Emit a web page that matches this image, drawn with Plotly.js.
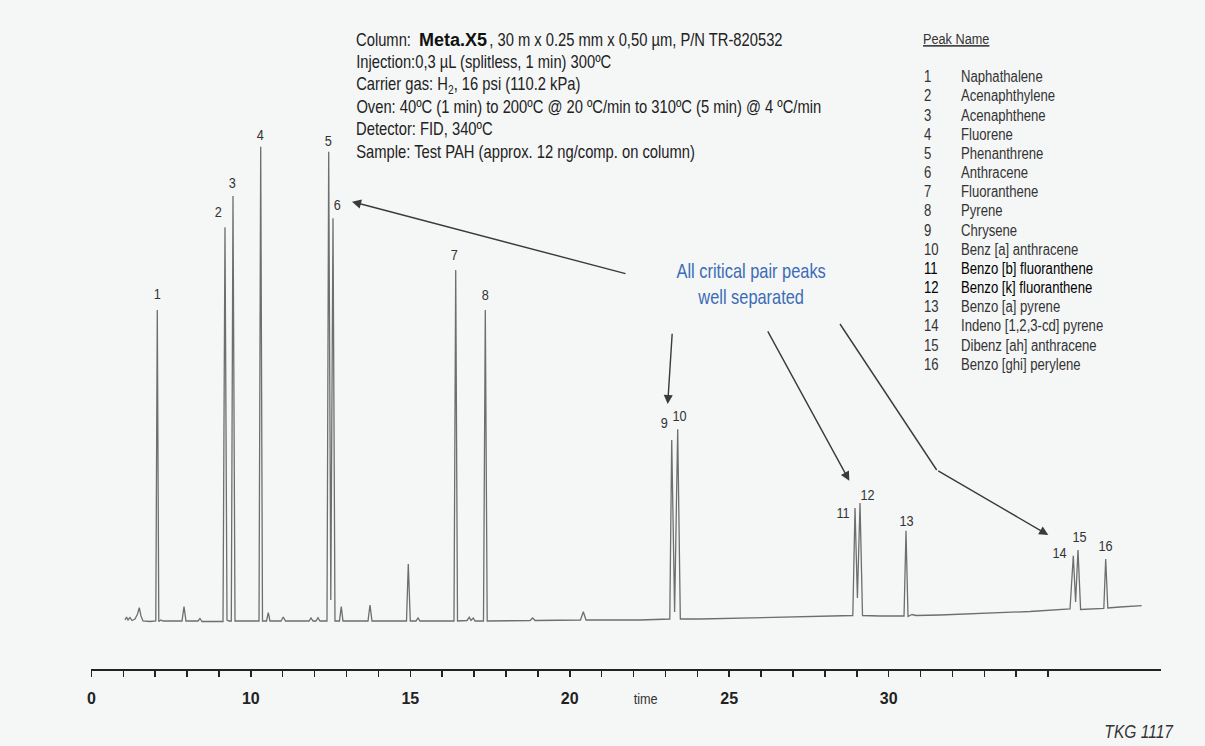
<!DOCTYPE html>
<html><head><meta charset="utf-8">
<script src="https://cdn.plot.ly/plotly-3.0.1.min.js"></script>
<style>html,body{margin:0;padding:0;background:#f5f6f6;}</style>
</head><body><div id="chart" style="width:1205px;height:746px;"></div>
<script>
// ---- data (retention time, detector signal) ----
const time = [6.054,6.101,6.148,6.210,6.273,6.367,6.446,6.502,6.555,6.618,6.838,7.019,7.066,7.113,7.182,7.245,
  7.841,7.904,7.966,8.342,8.405,8.468,9.127,9.189,9.252,9.315,9.387,9.440,9.503,10.256,10.309,10.365,
  10.491,10.547,10.600,10.946,11.018,11.087,11.824,11.886,11.949,12.043,12.105,12.168,12.388,12.441,12.507,12.576,12.638,
  12.779,12.835,12.889,13.674,13.736,13.799,14.881,14.937,15.000,15.179,15.241,15.304,16.370,16.424,16.480,
  16.778,16.850,16.903,16.975,17.029,17.295,17.352,17.411,18.754,18.838,18.910,20.337,20.425,20.510,22.203,
  23.137,23.197,23.288,23.385,23.467,24.084,25.965,28.161,28.876,28.945,29.020,29.102,29.180,29.729,
  30.482,30.544,30.607,30.732,30.857,31.610,33.491,34.432,35.687,35.790,35.862,35.937,36.019,36.471,36.747,36.806,36.872,37.254,37.935];
const signal = [2,5,2,4.5,1.5,3,8,14.3,6,1,0.5,1,312,0.5,2,1,
  1,15.3,1,1,3.5,0.5,0.5,394.7,2,1,1,426,1,1,475.3,1,
  1,9.3,1,1,5,1,1,4,1,1,4.3,1,1,470.3,22,403.7,1,
  1,15.3,1,1,17,1,1,58,1,1,4,1,1,352,1,
  1.5,4.7,1.5,4,1,1,312,1,1.5,4,1.5,2,10.3,2,2,
  3,182,10,192.7,3,3,4.5,6,6.5,114,24,119,6.5,6,
  6,91.3,5.5,7.5,6.5,7,9,10.5,13,66.3,20,72,12.5,13,13.5,63,14,15,16.3];

const peakNumbers = [1,2,3,4,5,6,7,8,9,10,11,12,13,14,15,16];
const peakTimes = [7.066,9.189,9.440,10.309,12.441,12.576,16.424,17.352,23.197,23.385,28.945,29.102,30.544,35.790,35.937,36.806];
const peakNames = ["Naphathalene","Acenaphthylene","Acenaphthene","Fluorene","Phenanthrene","Anthracene",
  "Fluoranthene","Pyrene","Chrysene","Benz [a] anthracene","Benzo [b] fluoranthene","Benzo [k] fluoranthene",
  "Benzo [a] pyrene","Indeno [1,2,3-cd] pyrene","Dibenz [ah] anthracene","Benzo [ghi] perylene"];

const tickValues = [5,6,7,8,9,10,11,12,13,14,15,16,17,18,19,20,21,22,23,24,25,26,27,28,29,30,31,32,33,34,35];
const tickLabels = ["0","","","","","10","","","","","15","","","","","20","","","","","25","","","","","30","","","","",""];

const columnLabel = 'Column:';
const columnName = 'Meta.X5';
const columnSpec = ', 30 m x 0.25 mm x 0,50 µm, P/N TR-820532';
const headerLines = [
  'Injection:0,3 µL (splitless, 1 min) 300ºC',
  'Carrier gas: H<sub>2</sub>, 16 psi (110.2 kPa)',
  'Oven: 40ºC (1 min) to 200ºC @ 20 ºC/min to 310ºC (5 min) @ 4 ºC/min',
  'Detector: FID, 340ºC',
  'Sample: Test PAH (approx. 12 ng/comp. on column)'
];
const tableTitle = 'Peak Name';
const calloutText = 'All critical pair peaks<br>well separated';
const axisWord = 'time';
const docCode = 'TKG 1117';

// ---- styling / layout helpers ----
const FONT = 'Liberation Sans, Arial, sans-serif';
const SQUEEZE = 0.82;   // emulate a condensed face
const W = 1205, H = 746, ML = 91, MR = 44, MT = 0, MB = 77;
const X0 = 4.9875, X1 = 38.54, Y0 = -47, Y1 = 622;
const plotW = W - ML - MR, plotH = H - MT - MB;
const dX = px => X0 + (px - ML) / plotW * (X1 - X0);
const dY = py => Y1 - (py - MT) / plotH * (Y1 - Y0);
const pX = px => (px - ML) / plotW;
const pY = py => 1 - (py - MT) / plotH;

const labelDx = [0,-6,0,0,0,4,-1,0,-7,2,-12,7,0,-13,2,0];
const labelDy = [17,16,14,12,11,14,16,16,18,14,-4,9,10,3,14,14];

const annotations = [];
const narrowIdx = new Set();
function addText(a, narrow) { if (narrow) narrowIdx.add(annotations.length); annotations.push(a); }
function paperText(px, py, text, anchor, font, narrow) {
  addText({x: pX(px), y: pY(py), xref: 'paper', yref: 'paper', text: text, showarrow: false,
    xanchor: anchor, yanchor: 'middle', font: font}, narrow);
}

// peak number labels
peakNumbers.forEach((n, i) => {
  let best = 0, bd = 1e9;
  time.forEach((t, j) => { const d = Math.abs(t - peakTimes[i]); if (d < bd) { bd = d; best = j; } });
  addText({
    x: peakTimes[i], y: signal[best], xref: 'x', yref: 'y', text: String(n), showarrow: false,
    xshift: labelDx[i], yshift: labelDy[i], xanchor: 'center', yanchor: 'middle',
    font: {family: FONT, size: 15.5, color: '#333'}
  }, true);
});

// header block
const hFont = {family: FONT, size: 18, color: '#222'};
paperText(354, 40, columnLabel, 'left', hFont, true);
paperText(416.5, 40, columnName, 'left', {family: FONT, size: 18, color: '#111', weight: 'bold'}, false);
paperText(486.5, 40, columnSpec, 'left', hFont, true);
const headerY = [62.3, 85, 106.7, 129.3, 151.7];
headerLines.forEach((s, i) => paperText(354, headerY[i], s, 'left', hFont, true));

// peak name table
paperText(921, 38.5, '<u>' + tableTitle + '</u>', 'left', {family: FONT, size: 15.5, color: '#333'}, true);
peakNumbers.forEach((n, i) => {
  const yy = 76.7 + i * 19.17;
  const col = (n === 11 || n === 12) ? '#000' : '#333';
  paperText(922, yy, String(n), 'left', {family: FONT, size: 16, color: col}, true);
  paperText(959, yy, peakNames[i], 'left', {family: FONT, size: 16, color: col}, true);
});

// blue callout
addText({x: pX(750.5), y: pY(284), xref: 'paper', yref: 'paper', text: calloutText, showarrow: false,
  xanchor: 'center', yanchor: 'middle', align: 'center', font: {family: FONT, size: 20, color: '#3b6cb7'}}, true);

// arrows
const arrowStyle = {showarrow: true, arrowhead: 2, arrowsize: 1.3, arrowwidth: 1.4, arrowcolor: '#3a3a3a', text: ' ', standoff: 0,
  xref: 'x', yref: 'y', axref: 'x', ayref: 'y', font: {size: 1}};
[[352, 201.7, 627, 274], [667.7, 404, 672.3, 331.7], [849.3, 480.7, 766.7, 329.3], [1048.3, 535, 936.7, 470]]
  .forEach(a => addText(Object.assign({}, arrowStyle, {x: dX(a[0]), y: dY(a[1]), ax: dX(a[2]), ay: dY(a[3])}), false));

// axis word and document code
paperText(645, 699, axisWord, 'center', {family: FONT, size: 15.5, color: '#333'}, true);
paperText(1176, 731, docCode, 'right', {family: FONT, size: 19, color: '#333', style: 'italic'}, true);

const shapes = [{type: 'line', xref: 'x', yref: 'y', x0: dX(840), y0: dY(324), x1: dX(936.7), y1: dY(470),
  line: {color: '#3a3a3a', width: 1.4}}];

const trace = {x: time, y: signal, type: 'scatter', mode: 'lines',
  line: {color: '#6e6e6e', width: 1.3}, hoverinfo: 'skip'};

const layout = {
  width: W, height: H, margin: {l: ML, r: MR, t: MT, b: MB, pad: 0},
  paper_bgcolor: '#f5f6f6', plot_bgcolor: '#f5f6f6', showlegend: false,
  xaxis: {range: [X0, X1], showgrid: false, zeroline: false, showline: true, linecolor: '#222', linewidth: 2,
    ticks: 'outside', ticklen: 6, tickwidth: 1.5, tickcolor: '#222', tickmode: 'array',
    tickvals: tickValues, ticktext: tickLabels, ticklabelstandoff: 8,
    tickfont: {family: FONT, size: 16, weight: 'bold', color: '#222'}},
  yaxis: {range: [Y0, Y1], visible: false, showgrid: false, zeroline: false},
  annotations: annotations, shapes: shapes
};

Plotly.newPlot('chart', [trace], layout, {staticPlot: true, displayModeBar: false}).then(gd => {
  gd.querySelectorAll('g.annotation').forEach(g => {
    const idx = +g.getAttribute('data-index');
    if (!narrowIdx.has(idx)) return;
    const a = annotations[idx];
    const t = g.querySelector('text.annotation-text');
    if (!t) return;
    t.style.transformBox = 'fill-box';
    t.style.transformOrigin = a.xanchor === 'left' ? 'left center' : (a.xanchor === 'right' ? 'right center' : 'center center');
    t.style.transform = 'scaleX(' + SQUEEZE + ')';
  });
});
</script>
</body></html>
